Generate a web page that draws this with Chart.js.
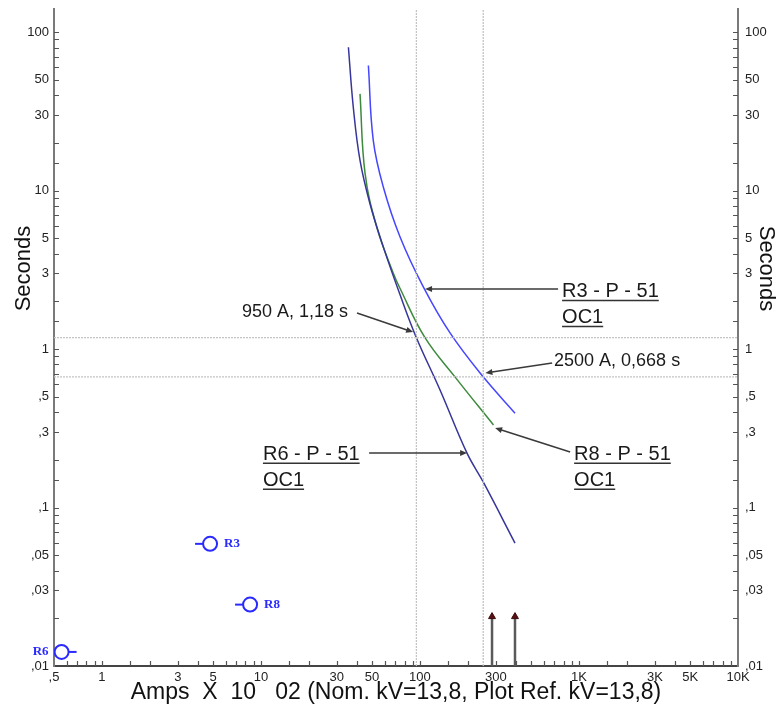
<!doctype html>
<html lang="en">
<head>
  <meta charset="utf-8" />
  <title>TCC - R3 / R6 / R8</title>
  <script src="https://cdn.jsdelivr.net/npm/chart.js"></script>
  <style>
    html, body { margin: 0; padding: 0; background: #fff; }
  </style>
</head>
<body>
  <canvas id="tcc" width="778" height="710"></canvas>

  <script>
    // Curve data (amps x 10, seconds)
    const r6Amps = [35.5, 38.1, 42.0, 48.6, 58.9, 75.0, 95, 134, 197, 250, 396];
    const r6Secs = [80.3, 33.6, 15.5, 8.2, 4.4, 2.2, 1.18, 0.55, 0.222, 0.145, 0.0597];

    const r8Amps = [42.0, 45.2, 53.5, 68.1, 75, 107.6, 166, 290];
    const r8Secs = [40.8, 12.8, 5.90, 3.00, 2.41, 1.18, 0.668, 0.332];

    const r3Amps = [47.4, 50.9, 58.9, 75.0, 105, 155, 250, 396];
    const r3Secs = [61.6, 20.7, 10.5, 5.10, 2.47, 1.26, 0.668, 0.394];

    // relay markers
    const markerNames = ['R3', 'R8', 'R6'];
    const markerAmps = [4.79, 8.55, 0.558];
    const markerSecs = [0.059, 0.0244, 0.01227];

    // instantaneous pickup arrows at the bottom
    const instAmps = [284, 396];
    const instTop = 0.0205;

    // reference cross-hair lines
    const refAmps = [95, 250];
    const refSecs = [1.18, 0.668];

    // tick labels shown on the axes
    const xLabels = [0.5, 1, 3, 5, 10, 30, 50, 100, 300, 1000, 3000, 5000, 10000];
    const yLabels = [0.01, 0.03, 0.05, 0.1, 0.3, 0.5, 1, 3, 5, 10, 30, 50, 100];

    const xMin = 0.5, xMax = 10000, yMin = 0.01, yMax = 140;

    const fmt = v => {
      if (v >= 1000) return (v / 1000) + 'K';
      if (v < 1) return String(v).replace('0.', ',');
      return String(v);
    };
    const pick = list => v => {
      const hit = list.find(l => Math.abs(v / l - 1) < 1e-6);
      return hit === undefined ? '' : fmt(hit);
    };
    const pts = (xs, ys) => xs.map((v, i) => ({ x: v, y: ys[i] }));

    // annotations, placed in data units
    const notes = [
      { text: ['950 A, 1,18 s'], x: 35.3, y: 1.71, align: 'right', size: 18, underline: false,
        tail: [40.2, 1.69], tip: [90.6, 1.28] },
      { text: ['2500 A, 0,668 s'], x: 697, y: 0.84, align: 'left', size: 18, underline: false,
        tail: [678, 0.816], tip: [258, 0.706] },
      { text: ['R3 - P - 51', 'OC1'], x: 783, y: 2.13, align: 'left', size: 20, underline: true,
        tail: [739, 2.39], tip: [107.7, 2.39] },
      { text: ['R8 - P - 51', 'OC1'], x: 932, y: 0.2, align: 'left', size: 20, underline: true,
        tail: [880, 0.224], tip: [297, 0.318] },
      { text: ['R6 - P - 51', 'OC1'], x: 10.3, y: 0.2, align: 'left', size: 20, underline: true,
        tail: [47.9, 0.221], tip: [198, 0.221] }
    ];

    const FONT = '"Liberation Sans", Arial, sans-serif';
    Chart.defaults.font.family = FONT;
    Chart.defaults.color = '#222';

    function arrow(ctx, x1, y1, x2, y2) {
      const ang = Math.atan2(y2 - y1, x2 - x1);
      ctx.beginPath();
      ctx.moveTo(x1, y1);
      ctx.lineTo(x2 - 5 * Math.cos(ang), y2 - 5 * Math.sin(ang));
      ctx.stroke();
      ctx.beginPath();
      ctx.moveTo(x2, y2);
      ctx.lineTo(x2 - 7 * Math.cos(ang) + 3 * Math.sin(ang), y2 - 7 * Math.sin(ang) - 3 * Math.cos(ang));
      ctx.lineTo(x2 - 7 * Math.cos(ang) - 3 * Math.sin(ang), y2 - 7 * Math.sin(ang) + 3 * Math.cos(ang));
      ctx.closePath();
      ctx.fill();
    }

    const decor = {
      id: 'decor',
      afterDatasetsDraw(chart) {
        const { ctx, chartArea: a, scales: { x, y } } = chart;
        const px = v => x.getPixelForValue(v), py = v => y.getPixelForValue(v);
        ctx.save();

        // inward tick marks
        ctx.strokeStyle = '#555';
        ctx.lineWidth = 1.2;
        ctx.beginPath();
        x.ticks.forEach(t => {
          if (t.value <= xMin || t.value >= xMax) return;
          const p = Math.round(px(t.value)) + 0.5;
          ctx.moveTo(p, a.bottom); ctx.lineTo(p, a.bottom - 5);
        });
        y.ticks.forEach(t => {
          if (t.value <= yMin || t.value >= yMax) return;
          const p = Math.round(py(t.value)) + 0.5;
          ctx.moveTo(a.left, p); ctx.lineTo(a.left + 5, p);
          ctx.moveTo(a.right, p); ctx.lineTo(a.right - 5, p);
        });
        ctx.stroke();

        // "Seconds" titles on both sides, set a bit above the middle
        ctx.fillStyle = '#111';
        ctx.font = '22px ' + FONT;
        ctx.textAlign = 'center';
        ctx.textBaseline = 'middle';
        const ty = a.top + (a.bottom - a.top) * 0.395;
        ctx.save(); ctx.translate(24, ty); ctx.rotate(-Math.PI / 2); ctx.fillText('Seconds', 0, 0); ctx.restore();
        ctx.save(); ctx.translate(a.right + 28, ty); ctx.rotate(Math.PI / 2); ctx.fillText('Seconds', 0, 0); ctx.restore();

        // relay markers: stub + name
        const meta = chart.getDatasetMeta(chart.data.datasets.length - 1);
        ctx.strokeStyle = '#2a2aff';
        ctx.fillStyle = '#2a2aff';
        ctx.lineWidth = 2;
        ctx.font = 'bold 13px "Liberation Serif", "Times New Roman", serif';
        ctx.textBaseline = 'middle';
        meta.data.forEach((el, i) => {
          const left = el.x - a.left < 30;
          ctx.beginPath();
          if (left) { ctx.moveTo(el.x + 7, el.y); ctx.lineTo(el.x + 15, el.y); }
          else { ctx.moveTo(el.x - 7, el.y); ctx.lineTo(el.x - 15, el.y); }
          ctx.stroke();
          ctx.textAlign = left ? 'right' : 'left';
          ctx.fillText(markerNames[i], left ? el.x - 13 : el.x + 14, el.y);
        });

        // annotations
        notes.forEach(n => {
          ctx.strokeStyle = '#3a3a3a';
          ctx.fillStyle = '#3a3a3a';
          ctx.lineWidth = 1.5;
          arrow(ctx, px(n.tail[0]), py(n.tail[1]), px(n.tip[0]), py(n.tip[1]));
          ctx.font = n.size + 'px ' + FONT;
          ctx.textAlign = n.align;
          ctx.textBaseline = n.underline ? 'alphabetic' : 'middle';
          ctx.fillStyle = '#1a1a1a';
          const tx = px(n.x), ty = py(n.y);
          n.text.forEach((s, k) => {
            const yy = ty + k * 26;
            ctx.fillText(s, tx, yy);
            if (n.underline) {
              const w = ctx.measureText(s).width;
              ctx.strokeStyle = '#333';
              ctx.lineWidth = 1.5;
              ctx.beginPath();
              ctx.moveTo(tx, yy + 3.5);
              ctx.lineTo(tx + w, yy + 3.5);
              ctx.stroke();
            }
          });
        });
        ctx.restore();
      }
    };

    const dotted = { borderColor: '#c4c4c4', borderWidth: 1.3, borderDash: [2, 1], pointRadius: 0 };
    const refSets = [
      ...refAmps.map(v => ({ ...dotted, data: [{ x: v, y: yMin }, { x: v, y: yMax }] })),
      ...refSecs.map(v => ({ ...dotted, data: [{ x: xMin, y: v }, { x: xMax, y: v }] }))
    ];
    const curve = (data, color) => ({
      data, borderColor: color, borderWidth: 1.5, pointRadius: 0, tension: 0.4
    });
    const instSets = instAmps.map(v => ({
      data: [{ x: v, y: yMin }, { x: v, y: instTop }],
      borderColor: '#5a5a5a', borderWidth: 2.5,
      pointRadius: [0, 4], pointStyle: 'triangle',
      pointBackgroundColor: '#5a1010', pointBorderColor: '#3a0a0a', pointBorderWidth: 1
    }));

    const yAxis = (pos) => ({
      type: 'logarithmic', position: pos, min: yMin, max: yMax,
      grid: { display: false, drawTicks: false },
      border: { display: true, color: '#7a7a7a', width: 2 },
      ticks: { autoSkip: false, padding: pos === 'left' ? 5 : 7, font: { size: 13 }, color: '#222', callback: pick(yLabels) },
      afterFit: s => {
        s.width = pos === 'left' ? 54 : 40;
        s.paddingTop = 0;
        s.paddingBottom = 0;
      }
    });

    new Chart(document.getElementById('tcc'), {
      type: 'line',
      data: {
        datasets: [
          ...refSets,
          curve(pts(r6Amps, r6Secs), '#36369a'),
          curve(pts(r8Amps, r8Secs), '#3d8a3d'),
          curve(pts(r3Amps, r3Secs), '#4646ff'),
          ...instSets,
          {
            type: 'scatter', data: pts(markerAmps, markerSecs),
            pointStyle: 'circle', pointRadius: 7, borderWidth: 2,
            borderColor: '#2a2aff', backgroundColor: '#ffffff', showLine: false
          }
        ]
      },
      options: {
        responsive: false,
        animation: false,
        layout: { padding: { top: 8, left: 0, right: 0, bottom: 0 } },
        plugins: { legend: { display: false }, tooltip: { enabled: false } },
        scales: {
          x: {
            type: 'logarithmic', position: 'bottom', min: xMin, max: xMax,
            grid: { display: false, drawTicks: false },
            border: { display: true, color: '#444', width: 2 },
            ticks: { autoSkip: false, maxRotation: 0, padding: 4, font: { size: 13 }, color: '#222', callback: pick(xLabels) },
            title: { display: true, text: 'Amps  X  10   02 (Nom. kV=13,8, Plot Ref. kV=13,8)', color: '#111',
              font: { size: 23, lineHeight: 1.2 }, padding: { top: 0, bottom: 4 } },
            afterFit: s => { s.height = 44; }
          },
          y: yAxis('left'),
          y2: yAxis('right')
        }
      },
      plugins: [decor]
    });
  </script>
</body>
</html>
